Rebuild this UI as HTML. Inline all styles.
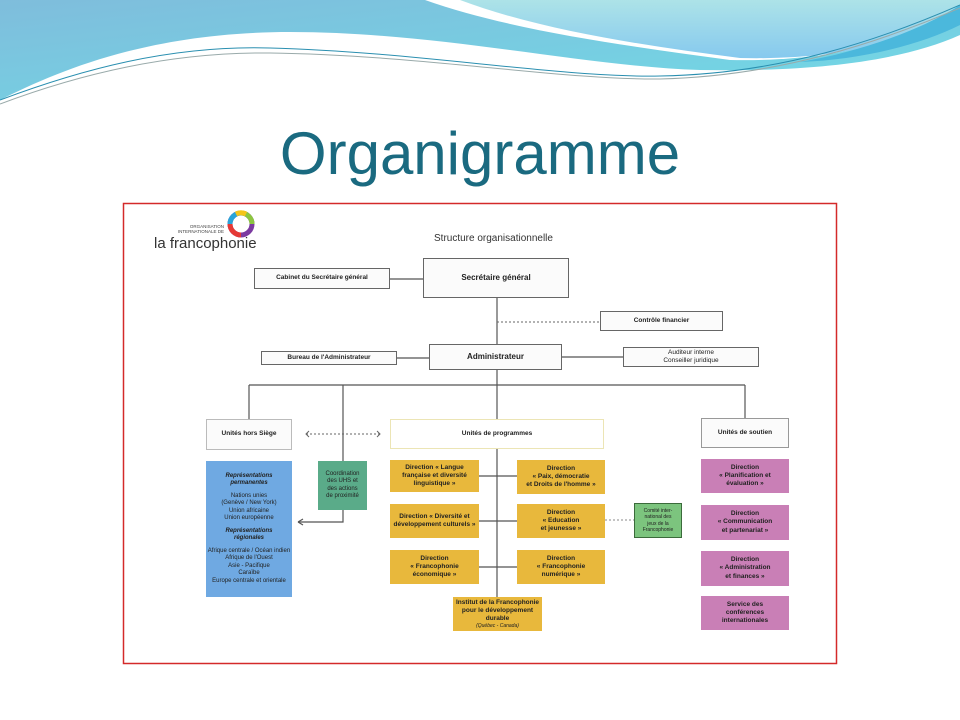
<!DOCTYPE html>
<html><head><meta charset="utf-8">
<style>
*{margin:0;padding:0;box-sizing:border-box}
body{width:960px;height:720px;position:relative;background:#fff;overflow:hidden;font-family:"Liberation Sans",sans-serif}
.b{position:absolute;display:flex;align-items:center;justify-content:center;text-align:center;font-size:6.5px;font-weight:bold;color:#222;line-height:1.25}
.w{background:#fbfbfb;border:1px solid #666}
.y{background:#e8b83c}
.p{background:#c97fb6}
svg{position:absolute;left:0;top:0}
</style></head><body>
<svg width="960" height="720">
<defs>
<linearGradient id="g1" x1="0" y1="0" x2="1" y2="1"><stop offset="0" stop-color="#7fbddc"/><stop offset="1" stop-color="#70dbe6"/></linearGradient>
<linearGradient id="g2" x1="0" y1="0" x2="0" y2="1"><stop offset="0" stop-color="#ade3e8"/><stop offset="1" stop-color="#86c9ee"/></linearGradient>
</defs>
<path d="M0,0 H960 V35 C900,62 810,72 700,70 C580,66 440,32 290,32 C150,32 60,70 0,100 Z" fill="url(#g1)"/>
<path d="M425,0 H960 V10 C900,45 820,62 730,60 C620,45 510,30 425,0 Z" fill="#fff"/>
<path d="M460,0 H960 V12 C900,48 820,60 740,58 C640,45 540,30 460,0 Z" fill="url(#g2)"/>
<path d="M800,62 C870,50 930,25 960,5 L960,25 C920,45 860,60 800,62Z" fill="#4bb8dc"/>
<path d="M0,100 C80,70 170,45 270,48 C420,52 560,78 660,76 C780,74 880,40 960,5" fill="none" stroke="#2a8fb0" stroke-width="1"/>
<path d="M0,104 C80,74 170,52 270,53 C420,55 560,80 660,79 C780,76 880,42 960,8" fill="none" stroke="#9aa" stroke-width="1"/>
<rect x="123.5" y="203.5" width="713" height="460" fill="none" stroke="#d42a2a" stroke-width="1.5"/>
<g stroke="#555" stroke-width="1.2" fill="none">
<line x1="390" y1="279" x2="423" y2="279"/>
<line x1="497" y1="298" x2="497" y2="344"/>
<line x1="397" y1="358" x2="429" y2="358"/>
<line x1="562" y1="357" x2="623" y2="357"/>
<line x1="497" y1="370" x2="497" y2="419"/>
<line x1="249" y1="385" x2="745" y2="385"/>
<line x1="249" y1="385" x2="249" y2="419"/>
<line x1="745" y1="385" x2="745" y2="418"/>
<polyline points="343,385 343,522 298,522"/>
<line x1="497" y1="449" x2="497" y2="597"/>
<line x1="479" y1="476" x2="517" y2="476"/>
<line x1="479" y1="521" x2="517" y2="521"/>
<line x1="479" y1="567" x2="517" y2="567"/>
</g>
<path d="M298,522 l5,-3 M298,522 l5,3" stroke="#555" stroke-width="1.2"/>
<line x1="497" y1="322" x2="600" y2="322" stroke="#666" stroke-dasharray="2,2"/>
<line x1="605" y1="520" x2="634" y2="520" stroke="#888" stroke-dasharray="2,2"/>
<line x1="306" y1="434" x2="380" y2="434" stroke="#666" stroke-dasharray="2,2"/>
<path d="M309,431 l-3,3 3,3 M377,431 l3,3 -3,3" stroke="#666" fill="none"/>
<circle cx="241" cy="224" r="11" fill="none" stroke="#7b3aa0" stroke-width="5"/>
<path d="M230,224 A11,11 0 0 1 241,213" fill="none" stroke="#2aa4d8" stroke-width="5"/>
<path d="M241,213 A11,11 0 0 1 252,224" fill="none" stroke="#8cc63f" stroke-width="5"/>
<path d="M241,235 A11,11 0 0 1 230,224" fill="none" stroke="#e53935" stroke-width="5"/>
<path d="M236,214 A11,11 0 0 1 246,214" fill="none" stroke="#f5c518" stroke-width="5"/>
</svg>
<div style="position:absolute;left:0;width:960px;top:119px;text-align:center;font-size:60px;color:#1a6a80">Organigramme</div>
<div style="position:absolute;left:166px;top:224px;font-size:4.5px;color:#444;text-align:right;width:58px;line-height:1.2">ORGANISATION<br>INTERNATIONALE DE</div>
<div style="position:absolute;left:154px;top:235px;font-size:15px;color:#333">la francophonie</div>
<div style="position:absolute;left:434px;top:233px;font-size:10px;color:#333">Structure organisationnelle</div>
<div class="b w" style="left:254px;top:268px;width:136px;height:21px">Cabinet du Secrétaire général</div>
<div class="b w" style="left:423px;top:258px;width:146px;height:40px;font-size:8px">Secrétaire général</div>
<div class="b w" style="left:600px;top:311px;width:123px;height:20px">Contrôle financier</div>
<div class="b w" style="left:429px;top:344px;width:133px;height:26px;font-size:8px">Administrateur</div>
<div class="b w" style="left:261px;top:351px;width:136px;height:14px">Bureau de l'Administrateur</div>
<div class="b w" style="left:623px;top:347px;width:136px;height:20px;font-weight:normal">Auditeur interne<br>Conseiller juridique</div>
<div class="b w" style="left:206px;top:419px;width:86px;height:31px;border-color:#bbb">Unités hors Siège</div>
<div class="b w" style="left:390px;top:419px;width:214px;height:30px;border-color:#ece5b5;background:#fff">Unités de programmes</div>
<div class="b w" style="left:701px;top:418px;width:88px;height:30px;border-color:#999">Unités de soutien</div>
<div class="b" style="left:206px;top:461px;width:86px;height:136px;background:#6fa9e2;font-weight:normal;font-size:6px;flex-direction:column;white-space:nowrap"><b><i>Représentations<br>permanentes</i></b><div style="height:5px"></div>Nations unies<br>(Genève / New York)<br>Union africaine<br>Union européenne<div style="height:5px"></div><b><i>Représentations<br>régionales</i></b><div style="height:5px"></div>Afrique centrale / Océan indien<br>Afrique de l'Ouest<br>Asie - Pacifique<br>Caraïbe<br>Europe centrale et orientale</div>
<div class="b" style="left:318px;top:461px;width:49px;height:49px;background:#5aab89;font-weight:normal;font-size:6px">Coordination<br>des UHS et<br>des actions<br>de proximité</div>
<div class="b y" style="left:390px;top:460px;width:89px;height:32px">Direction « Langue<br>française et diversité<br>linguistique »</div>
<div class="b y" style="left:517px;top:460px;width:88px;height:34px">Direction<br>« Paix, démocratie<br>et Droits de l'homme »</div>
<div class="b y" style="left:390px;top:504px;width:89px;height:34px">Direction « Diversité et<br>développement culturels »</div>
<div class="b y" style="left:517px;top:504px;width:88px;height:34px">Direction<br>« Education<br>et jeunesse »</div>
<div class="b y" style="left:390px;top:550px;width:89px;height:34px">Direction<br>« Francophonie<br>économique »</div>
<div class="b y" style="left:517px;top:550px;width:88px;height:34px">Direction<br>« Francophonie<br>numérique »</div>
<div class="b y" style="left:453px;top:597px;width:89px;height:34px;flex-direction:column">Institut de la Francophonie<br>pour le développement<br>durable<span style="font-weight:normal;font-style:italic;font-size:5px">(Québec - Canada)</span></div>
<div class="b" style="left:634px;top:503px;width:48px;height:35px;background:#7cc47e;border:1px solid #3b6b3b;font-weight:normal;font-size:5px">Comité inter-<br>national des<br>jeux de la<br>Francophonie</div>
<div class="b p" style="left:701px;top:459px;width:88px;height:34px">Direction<br>« Planification et<br>évaluation »</div>
<div class="b p" style="left:701px;top:505px;width:88px;height:35px">Direction<br>« Communication<br>et partenariat »</div>
<div class="b p" style="left:701px;top:551px;width:88px;height:35px">Direction<br>« Administration<br>et finances »</div>
<div class="b p" style="left:701px;top:596px;width:88px;height:34px">Service des<br>conférences<br>internationales</div>
</body></html>
